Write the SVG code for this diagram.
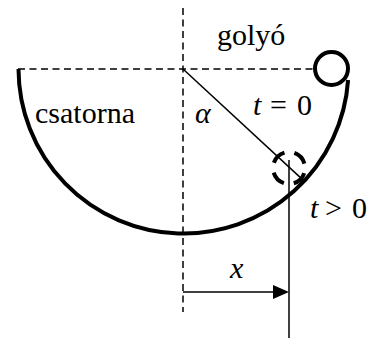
<svg xmlns="http://www.w3.org/2000/svg" width="372" height="338" viewBox="0 0 372 338">
<style>
.dash{fill:none;stroke:#000;stroke-width:1.5;stroke-dasharray:7 4.5}
.thin{fill:none;stroke:#000;stroke-width:1.5}
.thick{fill:none;stroke:#000;stroke-width:4}
.t{font-family:'Liberation Serif','Times New Roman',serif;font-size:30px;fill:#000}
.it{font-style:italic}
</style>
<rect width="372" height="338" fill="#fff"/>
<g id="axes">
<line class="dash" x1="18" y1="69" x2="313" y2="69"/>
<line class="dash" x1="183" y1="8" x2="183" y2="312"/>
</g>
<g id="csatorna">
<path class="thick" d="M18.5,69 A165,165 0 0 0 348.1,80"/>
<text class="t" x="35" y="123">csatorna</text>
</g>
<g id="golyo">
<circle class="thick" cx="331.5" cy="68.5" r="16.5"/>
<text class="t" x="217" y="45">golyó</text>
</g>
<g id="golyo2">
<circle class="thick" cx="289" cy="168" r="16" stroke-dasharray="15 10.1" stroke-dashoffset="20"/>
</g>
<g id="connectors">
<line class="thin" x1="183" y1="69" x2="303.4" y2="180.4"/>
<line class="thin" x1="289" y1="160" x2="289" y2="338"/>
<line class="thin" x1="183" y1="292" x2="275" y2="292"/>
<polygon points="273,285 289,292 273,299" fill="#000"/>
</g>
<g id="labels">
<text class="t it" x="195" y="123">α</text>
<text class="t" x="253" y="115"><tspan class="it">t</tspan><tspan x="270">=</tspan><tspan x="297">0</tspan></text>
<text class="t" x="310" y="218"><tspan class="it">t</tspan><tspan x="325">&gt;</tspan><tspan x="352">0</tspan></text>
<text class="t it" x="230" y="278">x</text>
</g>
</svg>
